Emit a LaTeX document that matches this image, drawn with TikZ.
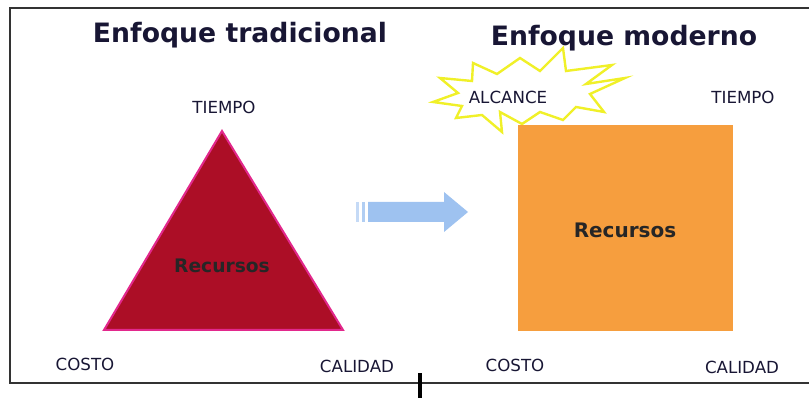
\documentclass[tikz,border=0pt]{standalone}
\usepackage{fontspec}
\setmainfont{DejaVu Sans}
\usepackage{xcolor}
\usetikzlibrary{positioning}
\usetikzlibrary{calc}
\definecolor{tinta}{RGB}{24,22,52}
\definecolor{rojo}{RGB}{172,14,38}
\definecolor{rosa}{RGB}{226,40,140}
\definecolor{naranja}{RGB}{246,158,62}
\definecolor{celeste}{RGB}{158,194,240}
\definecolor{amarillo}{RGB}{240,240,40}
\tikzset{
	titulo/.style={font=\bfseries\fontsize{20}{24}\selectfont, text=tinta},
	etiq/.style={font=\fontsize{12.5}{15}\selectfont, text=tinta},
	recurso/.style={font=\bfseries\fontsize{14}{17}\selectfont, text=black!85}
}

\begin{document}
\begin{tikzpicture}[x=0.75pt, y=-0.75pt]
					\useasboundingbox (0,0) rectangle (809,398);
					% draw frame
					\draw[line width=1.5pt, black!80] (809,8) -- (10,8) -- (10,383) -- (809,383);
					\draw[line width=3pt, black] (420,373) -- (420,398);
					
					% titles
					\node[titulo] (tradicional) at (240,35) {Enfoque tradicional};
					\node[titulo] (moderno) at (624,38) {Enfoque moderno};
					
					% triangle
					\filldraw[fill=rojo, draw=rosa, line width=1.5pt, line join=miter] (222,131) -- (343,330) -- (104,330) -- cycle;
					\node[recurso] (recA) at (222,266) {Recursos};
					\node[etiq] (tiempoA) at (224,107) {TIEMPO};
					\node[etiq] (costoA) at (85,364) {COSTO};
					\node[etiq] (calidadA) at (357,366) {CALIDAD};
					
					% arrow
					\fill[celeste!60] (356,202) rectangle ++(3,20);
					\fill[celeste!80] (362,202) rectangle ++(3,20);
					\fill[celeste] (368,202) -- (444,202) -- (444,192) -- (468,212) -- (444,232) -- (444,222) -- (368,222) -- cycle;
					
					% starburst
					\filldraw[fill=white, draw=amarillo, line width=1.8pt, line join=miter]
						(433,102) -- (458,93) -- (440,78) -- (472,81) -- (473,63) -- (497,74) -- (520,58) -- (540,71)
						-- (563,48) -- (566,71) -- (612,65) -- (586,84) -- (625,78) -- (590,94) -- (604,112) -- (576,107)
						-- (563,120) -- (540,112) -- (522,124) -- (500,112) -- (502,132) -- (482,115) -- (456,118)
						-- (462,106) -- cycle;
					\node[etiq] (alcance) at (508,97) {ALCANCE};
					
					% rectangle
					\fill[naranja] (518,125) rectangle (733,331);
					\node[recurso, font=\bfseries\fontsize{15}{18}\selectfont] (recB) at (625,230) {Recursos};
					\node[etiq] (tiempoB) at (743,97) {TIEMPO};
					\node[etiq] (costoB) at (515,365) {COSTO};
					\node[etiq] (calidadB) at (742,367) {CALIDAD};
				\end{tikzpicture}
\end{document}
